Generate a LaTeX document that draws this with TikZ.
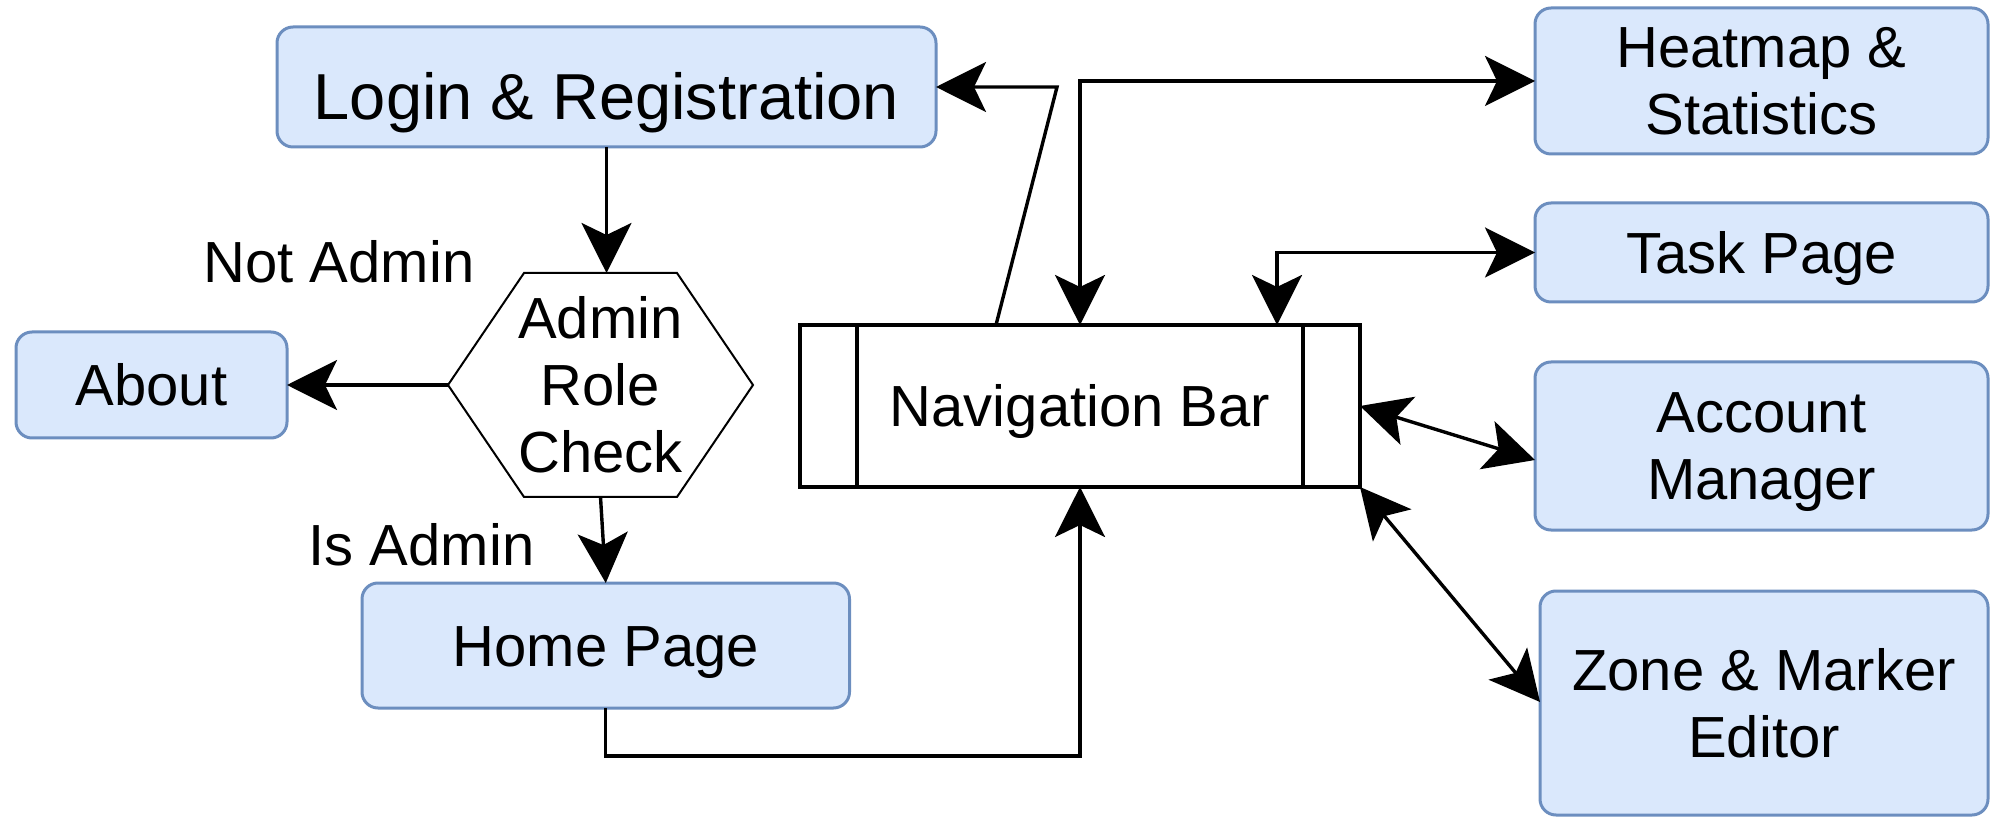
\documentclass[tikz,border=0pt]{standalone}
\usepackage{fontspec}
\setmainfont{Liberation Sans}
\usetikzlibrary{arrows.meta,calc}
\definecolor{boxfill}{HTML}{DAE8FC}
\definecolor{boxline}{HTML}{6C8EBF}
\begin{document}
\begin{tikzpicture}[x=0.5pt,y=-0.5pt,
  every node/.style={inner sep=0pt,outer sep=0pt},
  txt/.style={font=\fontsize{29}{33.5}\selectfont, align=center},
  bluebox/.style={txt, draw=boxline, fill=boxfill, line width=1.5pt, rounded corners=8pt},
  oneline/.style={text height=21pt, text depth=0pt},
  arr/.style={line width=1.7pt, -{Stealth[length=25pt,width=25pt,inset=6pt]}},
  darr/.style={line width=1.7pt, {Stealth[length=25pt,width=25pt,inset=6pt]}-{Stealth[length=25pt,width=25pt,inset=6pt]}}
]
\useasboundingbox (0,0) rectangle (1990,817);

% hexagon outline
\coordinate (hexc) at (600.5,385);
\draw[line width=1pt, fill=white]
  ($(hexc)+(-152.5,0)$) -- ($(hexc)+(-76.5,-112)$) -- ($(hexc)+(76.5,-112)$) -- ($(hexc)+(152.5,0)$)
  -- ($(hexc)+(76.5,112)$) -- ($(hexc)+(-76.5,112)$) -- cycle;

% nodes
\node[bluebox, font=\fontsize{32.5}{38}\selectfont, text height=33pt, text depth=0pt,
  minimum width=329.5pt, minimum height=60pt] (login) at (606.5,87) {Login \& Registration};
\node[txt, minimum width=152.5pt, minimum height=112pt] (hex) at (hexc) {Admin\\Role\\Check};
\node[bluebox, oneline, minimum width=135.5pt, minimum height=53pt] (about) at (151.5,385) {About};
\node[bluebox, oneline, minimum width=243.75pt, minimum height=62.5pt] (home) at (605.75,645.5) {Home Page};
\node[txt, oneline, draw, line width=1.7pt, minimum width=280pt, minimum height=81pt] (nav) at (1080,406) {Navigation Bar};
\draw[line width=1.7pt] ($(nav.north west)+(57,0)$) -- ($(nav.south west)+(57,0)$);
\draw[line width=1.7pt] ($(nav.north east)+(-57,0)$) -- ($(nav.south east)+(-57,0)$);
\node[bluebox, minimum width=226.5pt, minimum height=73pt] (heat) at (1761.5,81) {Heatmap \&\\Statistics};
\node[bluebox, oneline, minimum width=226.5pt, minimum height=49.5pt] (task) at (1761.5,252.5) {Task Page};
\node[bluebox, minimum width=226.5pt, minimum height=84pt] (acct) at (1761.5,446) {Account\\\smash{Manager}};
\node[bluebox, minimum width=224pt, minimum height=112pt] (zone) at (1764,703) {Zone \& Marker\\Editor};

% labels
\node[txt, anchor=base] (notadmin) at (339,283) {Not Admin};
\node[txt, anchor=base] (isadmin) at (421.5,565) {Is Admin};

% connectors
\draw[arr] (login.south) -- (login.south |- hex.north);
\draw[arr] (hex.west) -- (about.east);
\draw[arr] (hex.south) -- (home.north);
\draw[arr] (home.south) -- ++(0,48) -| (nav.south);
\draw[arr] ($(nav.north west)+(196,0)$) -- ++(61,-238) -- (login.east);
\draw[darr] (nav.north) |- (heat.west);
\draw[darr] ($(nav.north west)+(477,0)$) |- (task.west);
\draw[darr] (nav.east) -- ($(acct.west)+(0,14)$);
\draw[darr] (nav.south east) -- ($(zone.west)+(0,-1)$);
\end{tikzpicture}
\end{document}
